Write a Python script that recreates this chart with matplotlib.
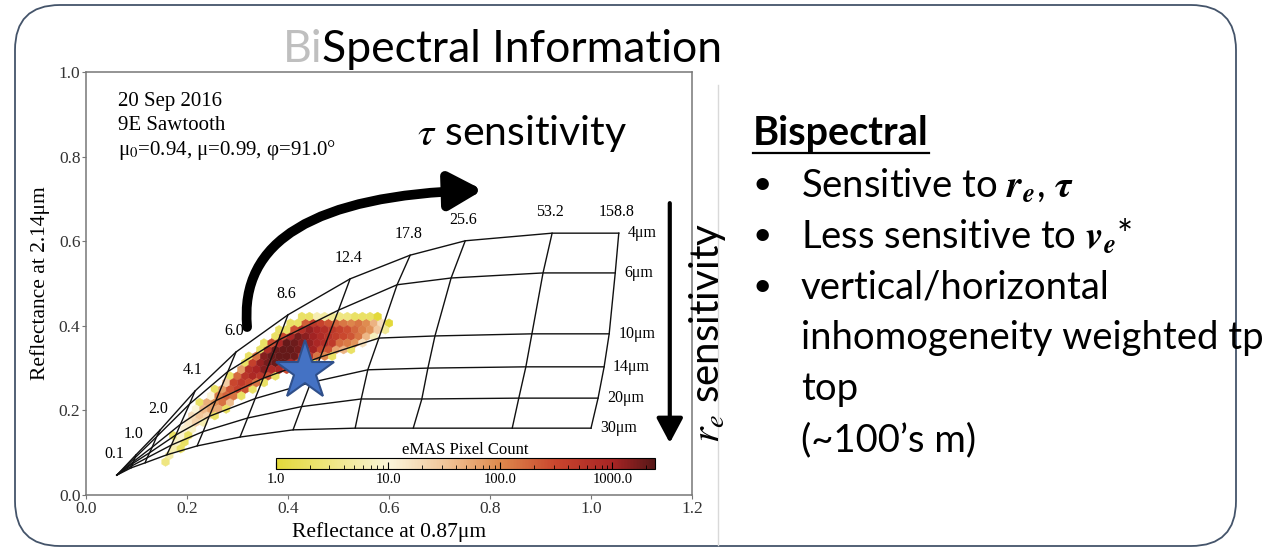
#!/usr/bin/env python3
"""
Recreate the 'BiSpectral Information' slide: eMAS bispectral look-up table
with the pixel-count hexbin, sensitivity arrows and the bullet text.
"""

import numpy as np
import matplotlib
matplotlib.use('Agg')  # Use non-interactive backend
import matplotlib.pyplot as plt
from matplotlib.colors import LinearSegmentedColormap, LogNorm
from matplotlib.patches import FancyBboxPatch, FancyArrowPatch
from matplotlib.path import Path
from matplotlib.lines import Line2D

OUTPUT_CHART = "out.png"
W, H = 1274, 549

# LUT grid: optical thickness (tau) columns, effective radius rows
TAU_LABELS = ['0.1', '1.0', '2.0', '4.1', '6.0', '8.6', '12.4', '17.8', '25.6', '53.2', '158.8']
RE_LABELS = ['4μm', '6μm', '10μm', '14μm', '20μm', '30μm']

# Reflectance at 0.87um, one row per r_e, one value per tau
R087 = [
    [0.061, 0.099, 0.147, 0.216, 0.297, 0.400, 0.523, 0.642, 0.751, 0.923, 1.055],
    [0.061, 0.097, 0.140, 0.205, 0.281, 0.381, 0.500, 0.616, 0.723, 0.905, 1.048],
    [0.061, 0.094, 0.131, 0.187, 0.257, 0.351, 0.464, 0.580, 0.691, 0.883, 1.036],
    [0.061, 0.092, 0.126, 0.178, 0.244, 0.335, 0.445, 0.558, 0.677, 0.871, 1.026],
    [0.061, 0.091, 0.121, 0.169, 0.232, 0.320, 0.427, 0.545, 0.665, 0.857, 1.014],
    [0.061, 0.089, 0.117, 0.160, 0.220, 0.305, 0.410, 0.533, 0.648, 0.844, 1.000],
]
# Reflectance at 2.14um, same layout
R214 = [
    [0.047, 0.095, 0.154, 0.246, 0.338, 0.426, 0.511, 0.567, 0.601, 0.619, 0.619],
    [0.047, 0.088, 0.138, 0.215, 0.292, 0.366, 0.437, 0.497, 0.513, 0.525, 0.525],
    [0.047, 0.079, 0.113, 0.167, 0.223, 0.276, 0.326, 0.371, 0.376, 0.381, 0.381],
    [0.047, 0.074, 0.100, 0.142, 0.186, 0.228, 0.266, 0.296, 0.300, 0.303, 0.303],
    [0.047, 0.069, 0.088, 0.118, 0.150, 0.182, 0.209, 0.227, 0.227, 0.229, 0.229],
    [0.047, 0.064, 0.076, 0.095, 0.116, 0.137, 0.154, 0.158, 0.158, 0.158, 0.158],
]

# eMAS pixel counts per hexbin row: row index, first column, counts
HEX_ROW = list(range(5, 28))
HEX_FIRST_COL = [10, 11, 11, 12, 11, 13, 13, 14, 14, 15, 16, 17,
                 18, 19, 20, 21, 21, 23, 23, 25, 25, 27, 28]
HEX_COUNTS = [
    [3],
    [5],
    [6, 2],
    [8, 2],
    [2, 9, 2],
    [12, 8],
    [14, 23, 6],
    [18, 32, 23, 2],
    [10, 41, 66, 54, 2],
    [2, 52, 89, 150, 38],
    [10, 120, 195, 140, 2],
    [2, 68, 250, 380, 248, 2],
    [27, 310, 460, 300, 150, 2],
    [2, 171, 550, 830, 545, 250, 2],
    [69, 670, 1020, 1440, 820, 900, 300, 2, 1],
    [2, 375, 1210, 1670, 1900, 2000, 900, 250, 205, 2],
    [2, 150, 1440, 1830, 2000, 2000, 1830, 685, 550, 138, 104, 2],
    [2, 750, 1900, 2000, 2000, 1680, 1370, 1070, 350, 250, 62, 45, 2],
    [2, 275, 900, 2000, 1830, 1520, 1220, 920, 690, 470, 158, 124, 81, 17],
    [2, 300, 900, 1680, 1370, 1070, 780, 550, 410, 300, 235, 140, 43, 7],
    [2, 2, 275, 685, 1220, 920, 690, 470, 350, 275, 180, 115, 80, 30, 4],
    [2, 2, 205, 480, 350, 250, 185, 135, 106, 140, 95, 45, 18, 1],
    [2, 2, 6, 5, 4, 3, 3, 2, 2, 2, 1],
]
HEX_GRID = (80, 32)
HEX_EXTENT = (0.0, 1.2, 0.0, 1.0)

CBAR_TICKS = [1, 10, 100, 1000]
CBAR_TICK_LABELS = ['1.0', '10.0', '100.0', '1000.0']
COUNT_MAX = 2400

# Annotation shapes (data coordinates)
STAR_POS = (0.434, 0.292)
TAU_ARROW = [(0.319, 0.397), (0.295, 0.703), (0.786, 0.721)]
RE_ARROW = [(1.156, 0.690), (1.156, 0.123)]

BULLETS = [
    (True, r'Sensitive to $\mathbfit{r_e}$, $\mathbfit{\tau}$'),
    (True, r'Less sensitive to $\mathbfit{v_e}$*'),
    (True, 'vertical/horizontal'),
    (False, 'inhomogeneity weighted tp'),
    (False, 'top'),
    (False, '(~100’s m)'),
]

SERIF = ['Liberation Serif', 'DejaVu Serif']
SANS = ['Lato', 'DejaVu Sans']

plt.rcParams['font.family'] = SERIF
plt.rcParams['mathtext.fontset'] = 'stix'


def fx(x):
    return x / W


def fy(y):
    return 1 - y / H


def pixel_cmap():
    return LinearSegmentedColormap.from_list('emas', [
        (0.00, '#e3d93a'), (0.14, '#efe680'), (0.30, '#fbf5da'),
        (0.45, '#f1c497'), (0.59, '#de8a4d'), (0.74, '#c9452d'),
        (0.89, '#a82424'), (1.00, '#561717')])


def hex_points():
    """Place each count on the centre of its hexbin cell"""
    sx = (HEX_EXTENT[1] - HEX_EXTENT[0]) / HEX_GRID[0]
    sy = (HEX_EXTENT[3] - HEX_EXTENT[2]) / HEX_GRID[1]
    xs, ys, cs = [], [], []
    for row, col0, counts in zip(HEX_ROW, HEX_FIRST_COL, HEX_COUNTS):
        shift = 0.5 if row % 2 else 0.0
        for i, c in enumerate(counts):
            xs.append(HEX_EXTENT[0] + (col0 + i + shift) * sx)
            ys.append(HEX_EXTENT[2] + row * sy / 2)
            cs.append(c)
    return np.array(xs), np.array(ys), np.array(cs, dtype=float)


def draw_plot(fig):
    ax = fig.add_axes([fx(86), fy(495), 606 / W, 423 / H])
    ax.set_xlim(0, 1.2)
    ax.set_ylim(0, 1.0)
    ax.set_xticks(np.arange(0, 1.21, 0.2))
    ax.set_yticks(np.arange(0, 1.01, 0.2))
    ax.xaxis.set_major_formatter(plt.FormatStrFormatter('%.1f'))
    ax.yaxis.set_major_formatter(plt.FormatStrFormatter('%.1f'))
    ax.tick_params(labelsize=12.5, colors='#333333', length=3, width=0.8,
                   color='#777777', pad=1)
    for sp in ax.spines.values():
        sp.set_color('#777777')
        sp.set_linewidth(1.1)
    ax.set_xlabel('Reflectance at 0.87μm', fontsize=15.5, labelpad=4)
    ax.set_ylabel('Reflectance at 2.14μm', fontsize=15.5, labelpad=6)

    # pixel-count hexbin
    xs, ys, cs = hex_points()
    hb = ax.hexbin(xs, ys, C=cs, gridsize=HEX_GRID, extent=HEX_EXTENT,
                   reduce_C_function=np.sum, cmap=pixel_cmap(),
                   norm=LogNorm(vmin=1, vmax=COUNT_MAX),
                   edgecolors='face', linewidths=0.3, zorder=2)

    # LUT grid
    r087 = np.array(R087)
    r214 = np.array(R214)
    for k in range(r087.shape[0]):
        ax.plot(r087[k], r214[k], color='#111111', lw=1.0, zorder=3)
        ax.annotate(RE_LABELS[k], (r087[k, -1], r214[k, -1]),
                    xytext=(9, 0), textcoords='offset pixels',
                    ha='left', va='center', fontsize=11.5)
    for j in range(r087.shape[1]):
        ax.plot(r087[:, j], r214[:, j], color='#111111', lw=1.0, zorder=3)
        ax.annotate(TAU_LABELS[j], (r087[0, j], r214[0, j]),
                    xytext=(-2, 21), textcoords='offset pixels',
                    ha='center', va='center', fontsize=11.5)

    # case info
    info = ['20 Sep 2016', '9E Sawtooth', 'μ$_0$=0.94, μ=0.99, φ=91.0°']
    for i, line in enumerate(info):
        fig.text(fx(118), fy(101 + 24.5 * i), line, fontsize=15,
                 ha='left', va='center')

    # star marking the sample pixel
    ax.plot(*STAR_POS, marker='*', markersize=44, color='#4472c4',
            markeredgecolor='#2f4f8a', markeredgewidth=1.5, zorder=5)

    # tau sensitivity arrow
    path = Path(TAU_ARROW, [Path.MOVETO, Path.CURVE3, Path.CURVE3])
    arr = FancyArrowPatch(path=path, arrowstyle='-|>,head_length=0.9,head_width=0.5',
                          mutation_scale=22, lw=7, color='black',
                          transform=ax.transData, clip_on=False, zorder=6)
    ax.add_patch(arr)

    # r_e sensitivity arrow
    ax.annotate('', xy=RE_ARROW[1], xytext=RE_ARROW[0],
                arrowprops=dict(arrowstyle='-|>,head_length=0.75,head_width=0.4',
                                mutation_scale=20, lw=3, color='black',
                                shrinkA=0, shrinkB=0),
                annotation_clip=False, zorder=6)

    # colorbar inside the plot
    cax = fig.add_axes([fx(276), fy(469), 379 / W, 11 / H])
    cb = fig.colorbar(hb, cax=cax, orientation='horizontal')
    cb.set_ticks(CBAR_TICKS)
    cb.set_ticklabels(CBAR_TICK_LABELS)
    cb.outline.set_linewidth(0.8)
    cax.tick_params(which='both', direction='in', labelsize=10.5, pad=3)
    cax.tick_params(which='major', length=5)
    cax.tick_params(which='minor', length=3)
    cax.set_title('eMAS Pixel Count', fontsize=12, pad=3)
    return ax


def draw_slide(fig):
    # rounded frame of the slide
    frame = FancyBboxPatch((0.15, 0.03), 12.21, 5.41,
                           boxstyle='round,pad=0,rounding_size=0.45',
                           transform=fig.dpi_scale_trans, fill=False,
                           edgecolor='#44546a', lw=1.3)
    fig.patches.append(frame)
    # right edge of the pasted figure
    fig.add_artist(Line2D([fx(718), fx(718)], [fy(85), fy(545)],
                          color='#d9d9d9', lw=1))

    # title with a grey 'Bi'
    t1 = fig.text(fx(283), fy(62), 'Bi', fontsize=32, color='#bfbfbf',
                  family=SANS, ha='left', va='baseline')
    fig.canvas.draw()
    bb = t1.get_window_extent()
    fig.text(bb.x1 / W, fy(62), 'Spectral Information', fontsize=32,
             color='black', family=SANS, ha='left', va='baseline')

    fig.text(fx(522), fy(133), r'$\tau$ sensitivity', fontsize=29.5,
             family=SANS, ha='center', va='center')
    fig.text(fx(707), fy(333), r'$r_e$ sensitivity', fontsize=29,
             family=SANS, ha='center', va='center', rotation=90)

    # bullet list
    head = fig.text(fx(753), fy(145), 'Bispectral', fontsize=28.5,
                    fontweight='bold', family=SANS, ha='left', va='baseline')
    fig.canvas.draw()
    hb = head.get_window_extent()
    fig.add_artist(Line2D([hb.x0 / W, hb.x1 / W], [fy(153), fy(153)],
                          color='black', lw=1.6))
    for i, (bullet, line) in enumerate(BULLETS):
        y = 185 + 51 * i
        if bullet:
            fig.text(fx(762), fy(y), '•', fontsize=24, family=SANS,
                     ha='center', va='center')
        fig.text(fx(801), fy(y), line, fontsize=27.5, family=SANS,
                 ha='left', va='center')


if __name__ == '__main__':
    fig = plt.figure(figsize=(W / 100, H / 100), dpi=100, facecolor='white')
    draw_plot(fig)
    draw_slide(fig)
    fig.savefig(OUTPUT_CHART, dpi=100, facecolor='white')
    print(f"Chart saved to: {OUTPUT_CHART}")
